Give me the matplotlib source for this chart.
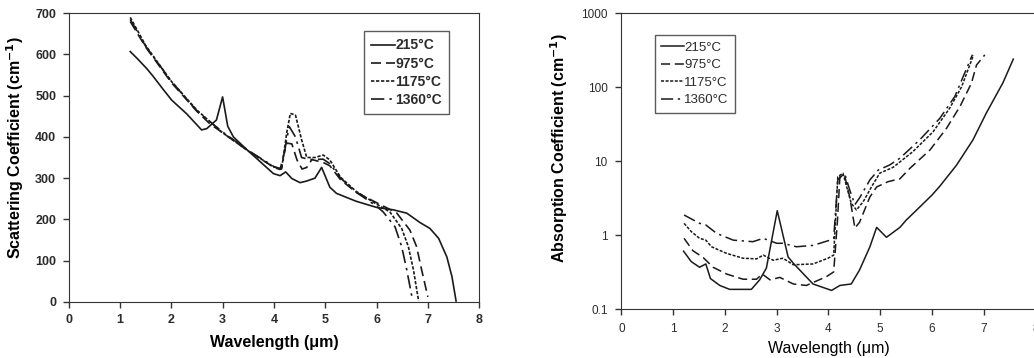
import numpy as np
import matplotlib.pyplot as plt

# scattering coefficient (cm-1) vs wavelength (um)
wl_s_215 = [1.2, 1.33, 1.52, 1.64, 1.85, 2.01, 2.3, 2.59, 2.69, 2.88, 3.0, 3.1, 3.21, 3.5, 3.99,
            4.12, 4.23, 4.35, 4.51, 4.64, 4.8, 4.93, 5.09, 5.22, 5.6, 6.0, 6.33, 6.59, 6.85, 7.04,
            7.21, 7.37, 7.47, 7.55]
sc_215 = [607, 591, 566, 548, 514, 489, 456, 417, 420, 441, 497, 426, 400, 366, 311,
          306, 315, 299, 289, 293, 300, 326, 278, 263, 244, 229, 223, 215, 192, 178,
          154, 109, 61, 2]
wl_s_975 = [1.2, 1.5, 2.0, 2.5, 2.75, 3.0, 3.5, 4.0, 4.12, 4.25, 4.35, 4.45, 4.55, 4.64, 4.74,
            4.96, 5.09, 5.3, 5.6, 6.07, 6.39, 6.65, 6.78, 6.88, 7.0]
sc_975 = [680, 618, 532, 462, 432, 410, 366, 326, 321, 385, 383, 344, 322, 326, 345,
          338, 330, 296, 266, 236, 216, 174, 134, 77, 12]
wl_s_1175 = [1.2, 1.5, 2.0, 2.5, 3.0, 3.5, 4.0, 4.15, 4.25, 4.32, 4.42, 4.54, 4.64, 4.8, 4.96,
             5.09, 5.3, 5.6, 6.0, 6.26, 6.49, 6.62, 6.72, 6.82]
sc_1175 = [690, 622, 535, 465, 410, 366, 327, 322, 410, 457, 453, 393, 350, 350, 356,
           344, 302, 268, 237, 218, 178, 134, 77, 2]
wl_s_1360 = [1.2, 1.5, 2.0, 2.5, 3.0, 3.5, 4.0, 4.15, 4.25, 4.3, 4.42, 4.54, 4.7, 4.96, 5.09,
             5.3, 5.6, 6.0, 6.13, 6.36, 6.49, 6.59, 6.69]
sc_1360 = [685, 620, 535, 463, 412, 367, 328, 322, 395, 425, 400, 350, 345, 346, 335,
           300, 266, 232, 218, 182, 134, 77, 12]

# absorption coefficient (cm-1) vs wavelength (um)
wl_a_215 = [1.2, 1.35, 1.51, 1.63, 1.72, 1.9, 2.09, 2.51, 2.67, 2.8, 3.01, 3.22, 3.32, 3.7, 4.06,
            4.22, 4.44, 4.6, 4.8, 4.93, 5.12, 5.38, 5.5, 5.76, 6.0, 6.15, 6.47, 6.79, 7.05, 7.37, 7.57]
ab_215 = [0.61, 0.44, 0.37, 0.41, 0.26, 0.21, 0.186, 0.186, 0.25, 0.36, 2.15, 0.51, 0.42, 0.22, 0.18,
          0.21, 0.22, 0.34, 0.70, 1.28, 0.94, 1.28, 1.6, 2.4, 3.5, 4.6, 8.8, 19.4, 45, 115, 240]
wl_a_975 = [1.21, 1.38, 1.58, 1.77, 2.03, 2.35, 2.61, 2.72, 2.87, 3.06, 3.32, 3.57, 3.96, 4.10, 4.17,
            4.22, 4.31, 4.41, 4.51, 4.6, 4.8, 4.93, 5.15, 5.38, 5.57, 5.96, 6.28, 6.54, 6.76, 6.86, 7.02]
ab_975 = [0.91, 0.62, 0.50, 0.37, 0.30, 0.255, 0.255, 0.30, 0.25, 0.27, 0.22, 0.21, 0.276, 0.32, 1.45,
          6.2, 6.5, 3.3, 1.25, 1.5, 3.3, 4.5, 5.3, 5.8, 8.0, 14.2, 27.9, 55, 113, 200, 274]
wl_a_1175 = [1.21, 1.35, 1.51, 1.63, 1.74, 2.03, 2.35, 2.61, 2.74, 2.93, 3.12, 3.32, 3.7, 3.99, 4.1,
             4.18, 4.28, 4.44, 4.54, 4.67, 4.83, 4.99, 5.25, 5.63, 6.02, 6.34, 6.57, 6.73, 6.8]
ab_1175 = [1.45, 1.12, 0.91, 0.86, 0.70, 0.57, 0.49, 0.48, 0.54, 0.46, 0.49, 0.40, 0.41, 0.49, 0.54,
           6.2, 6.9, 2.7, 2.2, 2.84, 4.5, 6.9, 8.3, 13.5, 25, 52, 101, 200, 272]
wl_a_1360 = [1.21, 1.51, 1.63, 1.84, 2.16, 2.54, 2.74, 3.0, 3.12, 3.38, 3.7, 4.03, 4.1, 4.18, 4.31,
             4.41, 4.51, 4.6, 4.8, 4.96, 5.18, 5.38, 5.76, 6.15, 6.44, 6.63, 6.78]
ab_1360 = [1.88, 1.45, 1.38, 1.06, 0.86, 0.82, 0.91, 0.78, 0.78, 0.70, 0.73, 0.86, 0.91, 5.6, 6.9,
           4.1, 2.6, 3.2, 5.6, 7.6, 8.9, 11.0, 19.4, 38, 75, 155, 275]

labels = ["215°C", "975°C", "1175°C", "1360°C"]
styles = ["-", (0, (6, 3)), (0, (2, 1)), (0, (8, 3, 1.5, 3))]
line_col = "#1a1a1a"
txt_col = "#2b2b2b"

plt.rcParams['font.family'] = ['Liberation Sans', 'DejaVu Sans']
plt.rcParams['text.color'] = txt_col
plt.rcParams['axes.edgecolor'] = "#333333"

fig = plt.figure(figsize=(10.34, 3.58), dpi=100)

# left: scattering
ax1 = fig.add_axes([0.0664, 0.157, 0.397, 0.806])
sc_x = [wl_s_215, wl_s_975, wl_s_1175, wl_s_1360]
sc_y = [sc_215, sc_975, sc_1175, sc_1360]
for x, y, ls, lab in zip(sc_x, sc_y, styles, labels):
    ax1.plot(x, y, linestyle=ls, color=line_col, lw=1.2, label=lab)
ax1.set_xlim(0, 8)
ax1.set_ylim(0, 700)
ax1.set_xticks(range(0, 9))
ax1.set_yticks(range(0, 701, 100))
ax1.tick_params(direction='out', length=4, width=1, colors="#333333", labelcolor=txt_col,
                labelsize=9, pad=5, top=False, right=False)
for t in ax1.get_xticklabels() + ax1.get_yticklabels():
    t.set_fontweight('bold')
ax1.set_xlabel("Wavelength (\u03bcm)", fontsize=11.5, fontweight='bold', labelpad=6)
ax1.set_ylabel("Scattering Coefficient (cm$^{\\mathbf{-1}}$)", fontsize=11.5, fontweight='bold')
ax1.yaxis.set_label_coords(-0.105, 0.535)
leg1 = ax1.legend(loc='upper right', bbox_to_anchor=(0.926, 0.937), borderaxespad=0,
                  prop={'weight': 'bold', 'size': 10}, frameon=True, fancybox=False,
                  edgecolor="#333333", handlelength=1.7, handletextpad=0.05,
                  labelspacing=0.3, borderpad=0.5)
leg1.get_frame().set_linewidth(1.0)

# right: absorption (log scale)
ax2 = fig.add_axes([0.601, 0.136, 0.4005, 0.827])
ab_x = [wl_a_215, wl_a_975, wl_a_1175, wl_a_1360]
ab_y = [ab_215, ab_975, ab_1175, ab_1360]
for x, y, ls, lab in zip(ab_x, ab_y, styles, labels):
    ax2.plot(x, y, linestyle=ls, color=line_col, lw=1.1, label=lab)
ax2.set_yscale('log')
ax2.set_xlim(0, 8)
ax2.set_ylim(0.1, 1000)
ax2.set_xticks(range(0, 9))
ax2.set_yticks([0.1, 1, 10, 100, 1000])
ax2.set_yticklabels(["0.1", "1", "10", "100", "1000"])
ax2.minorticks_off()
ax2.tick_params(direction='out', length=4, width=1, colors="#333333", labelcolor=txt_col,
                labelsize=8.5, pad=6, top=False, right=False)
ax2.set_xlabel("Wavelength (\u03bcm)", fontsize=11.5, labelpad=4)
ax2.set_ylabel("Absorption Coefficient (cm$^{\\mathbf{-1}}$)", fontsize=11.5, fontweight='bold')
ax2.yaxis.set_label_coords(-0.125, 0.545)
leg2 = ax2.legend(loc='upper left', bbox_to_anchor=(0.08, 0.927), borderaxespad=0,
                  prop={'size': 9.5}, frameon=True, fancybox=False, edgecolor="#333333",
                  handlelength=1.7, handletextpad=0.05, labelspacing=0.4, borderpad=0.5)
leg2.get_frame().set_linewidth(1.0)

plt.savefig("out.png", dpi=100)
